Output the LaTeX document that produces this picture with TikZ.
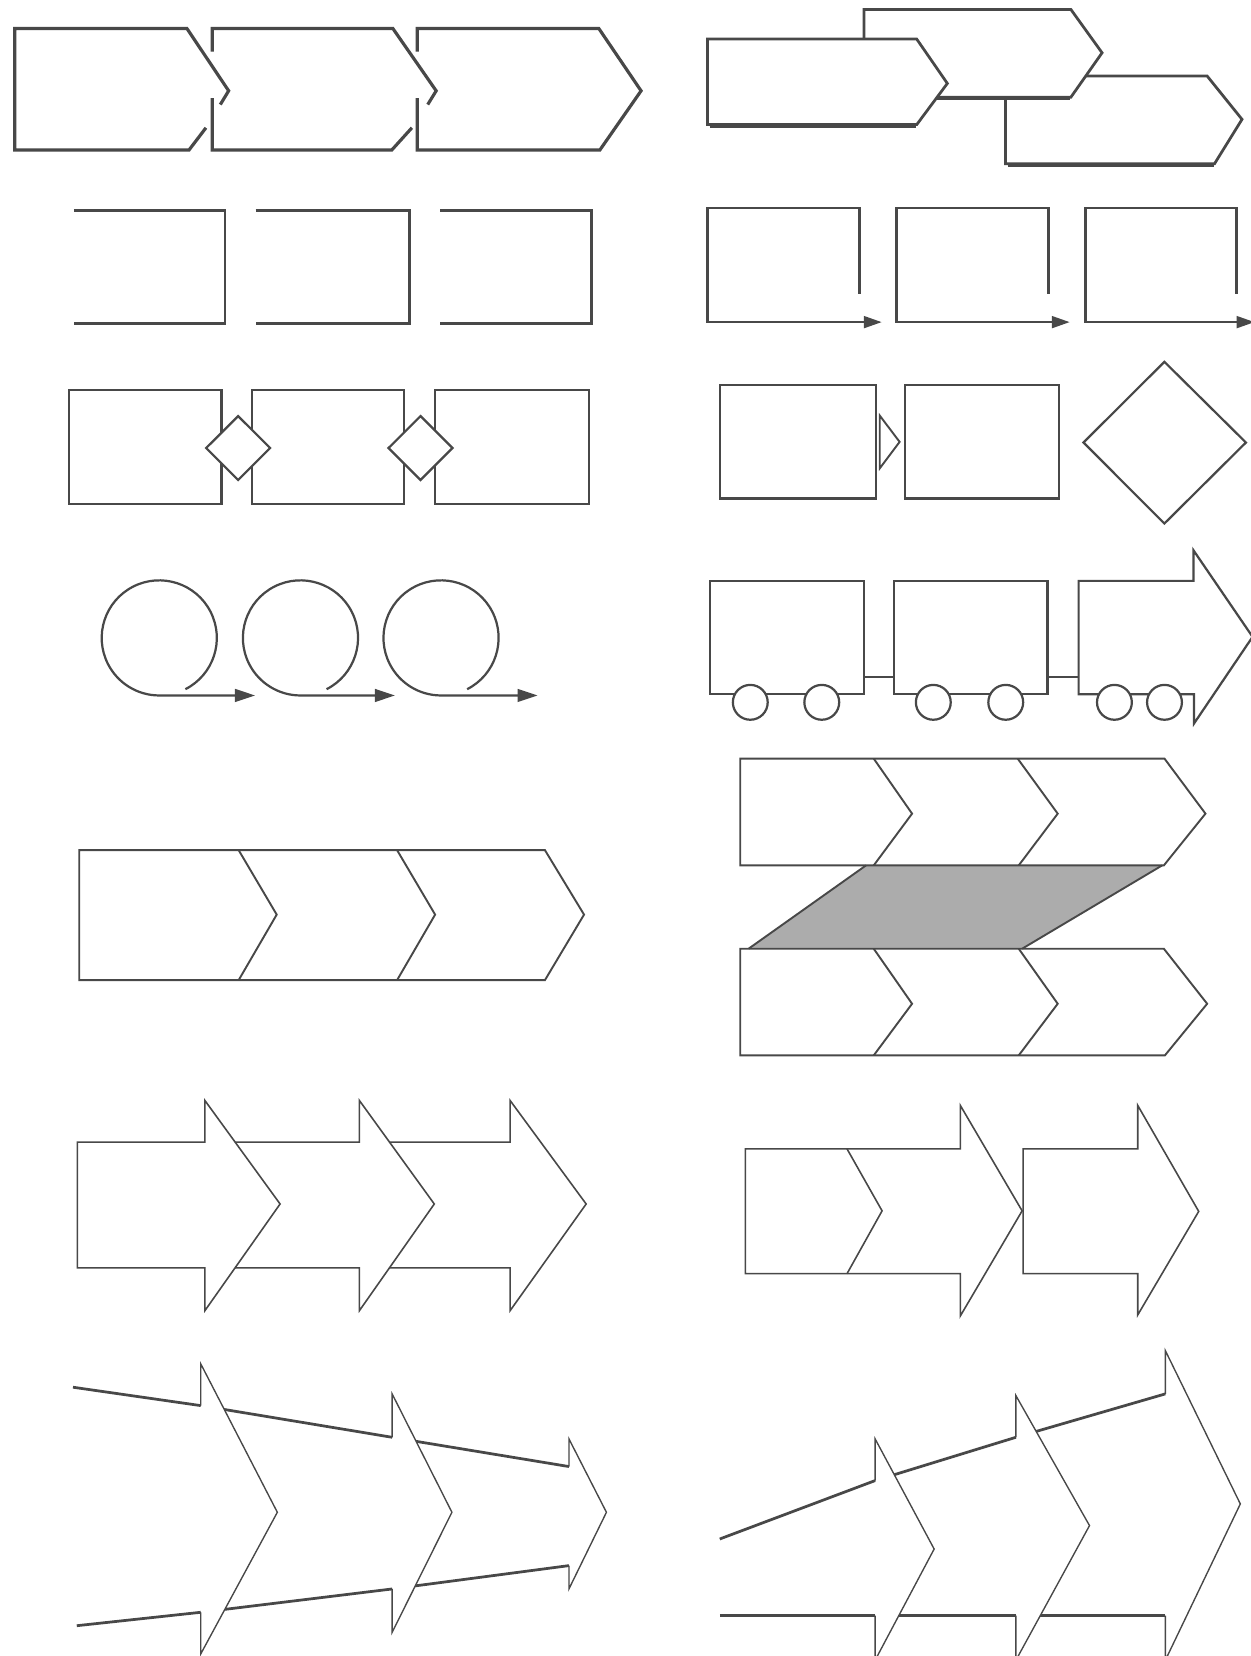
\documentclass[tikz,border=0pt]{standalone}
\usetikzlibrary{arrows.meta}
\definecolor{ink}{RGB}{72,72,72}
\definecolor{shadecol}{RGB}{172,172,172}
\begin{document}
\begin{tikzpicture}[x=1pt,y=-1pt,line join=miter,line cap=butt,
  wA/.style={draw=ink,line width=3pt},
  wB/.style={draw=ink,line width=2.6pt},
  wC/.style={draw=ink,line width=2.1pt},
  wD/.style={draw=ink,line width=1.8pt},
  wE/.style={draw=ink,line width=1.5pt},
  wF/.style={draw=ink,line width=1.3pt},
  wG/.style={draw=ink,line width=2.6pt},
  tipA/.style={-{Triangle[length=17pt,width=11pt]}},
  white/.style={fill=white}]
\fill[white] (0,0) rectangle (1184,1568);
\useasboundingbox (0,0) rectangle (1184,1568);

% ---------- Row 1 left: interlocking chevron boxes
\draw[wA] (195,121) -- (179,142) -- (14,142) -- (14,27) -- (177,27) -- (216.5,86) -- (208.6,99);
\draw[wA] (201,49) -- (201,27) -- (372,27) -- (413,86) -- (405,99);
\draw[wA] (390,121) -- (371,142) -- (201,142) -- (201,93);
\draw[wA] (395,49) -- (395,27) -- (567,27) -- (607,86) -- (568,142) -- (395,142) -- (395,93);

% ---------- Row 1 right: overlapping pentagons
\filldraw[wB,white] (952,72) -- (1143,72) -- (1176,113) -- (1150,155) -- (952,155) -- cycle;
\draw[ink,line width=2pt] (954,157) -- (1149,157);
\filldraw[wB,white] (818,9) -- (1014,9) -- (1043.5,50) -- (1014,92) -- (818,92) -- cycle;
\draw[ink,line width=2pt] (820,94) -- (1013,94);
\filldraw[wB,white] (670,37) -- (868,37) -- (897,79) -- (868,118) -- (670,118) -- cycle;
\draw[ink,line width=2pt] (672,120) -- (867,120);

% ---------- Row 2 left: open brackets
\draw[wB] (70,199) -- (213,199) -- (213,306) -- (70,306);
\draw[wB] (242,199) -- (387.6,199) -- (387.6,306) -- (242,306);
\draw[wB] (416.7,199) -- (560,199) -- (560,306) -- (416.7,306);

% ---------- Row 2 right: boxes with arrows
\draw[wB,tipA] (814,278) -- (814,197) -- (670,197) -- (670,305) -- (835,305);
\draw[wB,tipA] (993,278) -- (993,197) -- (849,197) -- (849,305) -- (1013,305);
\draw[wB,tipA] (1171,278) -- (1171,197) -- (1028,197) -- (1028,305) -- (1188,305);

% ---------- Row 3 left: boxes with diamonds
\draw[wC] (65.4,369.4) rectangle (209.7,477.4);
\draw[wC] (238.7,369.4) rectangle (382.7,477.4);
\draw[wC] (411.7,369.4) rectangle (557.7,477.4);
\filldraw[wC,white] (225.5,394) -- (255.8,424.2) -- (225.5,454.5) -- (195.2,424.2) -- cycle;
\filldraw[wC,white] (398.2,394) -- (428.5,424.2) -- (398.2,454.5) -- (367.9,424.2) -- cycle;

% ---------- Row 3 right: boxes, small triangle, big diamond
\draw[wC] (681.4,364.7) rectangle (829.2,472);
\draw[wC] (856.8,364.7) rectangle (1002.7,472);
\draw[wD] (833,393.5) -- (851.8,418.4) -- (833,443.5) -- cycle;
\draw[wC] (1102.5,342.6) -- (1179.7,419) -- (1102.5,495.7) -- (1025.9,419) -- cycle;

% ---------- Row 4 left: looping circles with arrows
\draw[wC,-{Triangle[length=19pt,width=12pt]}] (150.8,604) ++(-63:54.5pt) arc[start angle=-63,end angle=270,radius=54.5pt] -- (241.5,658.5);
\draw[wC,-{Triangle[length=19pt,width=12pt]}] (284.5,604) ++(-63:54.5pt) arc[start angle=-63,end angle=270,radius=54.5pt] -- (374,658.5);
\draw[wC,-{Triangle[length=19pt,width=12pt]}] (417.6,604) ++(-63:54.5pt) arc[start angle=-63,end angle=270,radius=54.5pt] -- (509,658.5);

% ---------- Row 4 right: train
\draw[wC] (672.2,550) rectangle (818.3,657.4);
\draw[wC] (846.4,550) rectangle (991.9,657.4);
\draw[wC] (1021.3,550) -- (1130,550) -- (1130,521) -- (1186,603) -- (1130.6,685) -- (1130.6,657.4) -- (1021.3,657.4) -- cycle;
\draw[wC] (818.3,641) -- (846.4,641);
\draw[wC] (991.9,641) -- (1021.3,641);
\foreach \wx in {710.4,778.1,883.7,952.3,1055.2,1102.6}
  \filldraw[wC,white] (\wx,665) circle[radius=16.5pt];

% ---------- Row 5 left: chevron bar
\draw[wD] (75,805) -- (516,805) -- (553,866) -- (516,928) -- (75,928) -- cycle;
\draw[wD] (226,805) -- (262,866) -- (226,928);
\draw[wD] (376,805) -- (412,866) -- (376,928);

% ---------- Row 5 right: two chevron bars with shaded band
\fill[shadecol] (820,819.4) -- (1100.4,819.4) -- (967.8,898.3) -- (708.8,898.3) -- cycle;
\draw[wD] (820,819.4) -- (708.8,898.3);
\draw[wD] (1100.4,819.4) -- (967.8,898.3);
\draw[wD] (700.9,718.3) -- (1102.6,718.3) -- (1141.4,770.4) -- (1102,819.4) -- (700.9,819.4) -- cycle;
\draw[wD] (827.3,718.3) -- (863.6,770.4) -- (827.3,819.4);
\draw[wD] (963.6,718.3) -- (1001.5,770.4) -- (964.6,819.4);
\draw[wD] (700.9,898.3) -- (1102,898.3) -- (1143,950.4) -- (1103,999.3) -- (700.9,999.3) -- cycle;
\draw[wD] (827.3,898.3) -- (863.6,950.4) -- (827.3,999.3);
\draw[wD] (964.6,898.3) -- (1001.5,950.4) -- (964.6,999.3);

% ---------- Row 6 left: overlapping block arrows
\filldraw[wE,white] (352,1081.4) -- (483,1081.4) -- (483,1042) -- (555,1140) -- (483,1241) -- (483,1200.5) -- (352,1200.5) -- cycle;
\filldraw[wE,white] (205,1081.4) -- (340.3,1081.4) -- (340.3,1042) -- (411.2,1140) -- (340.3,1241) -- (340.3,1200.5) -- (205,1200.5) -- cycle;
\filldraw[wE,white] (73.2,1081.4) -- (194,1081.4) -- (194,1042) -- (265.2,1140) -- (194,1241) -- (194,1200.5) -- (73.2,1200.5) -- cycle;

% ---------- Row 6 right: chevron-box arrow and block arrow
\draw[wE] (705.7,1087.8) -- (909.3,1087.8) -- (909.3,1046.7) -- (967.8,1146.5) -- (909.3,1246) -- (909.3,1206) -- (705.7,1206) -- cycle;
\draw[wE] (802,1087.8) -- (835.2,1146.5) -- (802,1206);
\draw[wE] (968.7,1087.8) -- (1077.3,1087.8) -- (1077.3,1046.7) -- (1135,1147) -- (1077.3,1245) -- (1077.3,1206) -- (968.7,1206) -- cycle;

% ---------- Row 7 left: converging arrows
\fill[white] (381,1362.6) -- (538.7,1388.6) -- (538.7,1362.4) -- (574.2,1431.9) -- (538.7,1504.5) -- (538.7,1482.4) -- (381,1503.2) -- cycle;
\draw[wG] (381,1362.6) -- (538.7,1388.6);
\draw[wG] (381,1503.2) -- (538.7,1482.4);
\draw[wF] (538.7,1388.6) -- (538.7,1362.4) -- (574.2,1431.9) -- (538.7,1504.5) -- (538.7,1482.4);
\fill[white] (200,1332.5) -- (371.3,1360.9) -- (371.3,1319.8) -- (427.9,1431.9) -- (371.3,1545.6) -- (371.3,1504.5) -- (200,1525.4) -- cycle;
\draw[wG] (200,1332.5) -- (371.3,1360.9);
\draw[wG] (200,1525.4) -- (371.3,1504.5);
\draw[wF] (371.3,1360.9) -- (371.3,1319.8) -- (427.9,1431.9) -- (371.3,1545.6) -- (371.3,1504.5);
\fill[white] (69.1,1313.5) -- (190.1,1330.9) -- (190.1,1291.4) -- (262.6,1431.9) -- (190.1,1566) -- (190.1,1526.6) -- (72.7,1539.3) -- cycle;
\draw[wG] (69.1,1313.5) -- (190.1,1330.9);
\draw[wG] (72.7,1539.3) -- (190.1,1526.6);
\draw[wF] (190.1,1330.9) -- (190.1,1291.4) -- (262.6,1431.9) -- (190.1,1566) -- (190.1,1526.6);

% ---------- Row 7 right: diverging arrows
\fill[white] (973,1357.7) -- (1103.4,1319.8) -- (1103.4,1278.8) -- (1174.4,1424) -- (1103.4,1572) -- (1103.4,1529.8) -- (973,1529.8) -- cycle;
\draw[wG] (973,1357.7) -- (1103.4,1319.8);
\draw[wG] (973,1529.8) -- (1103.4,1529.8);
\draw[wF] (1103.4,1319.8) -- (1103.4,1278.8) -- (1174.4,1424) -- (1103.4,1572) -- (1103.4,1529.8);
\fill[white] (840,1398.4) -- (961.9,1360.9) -- (961.9,1321.4) -- (1031.6,1444.5) -- (961.9,1572) -- (961.9,1529.8) -- (840,1529.8) -- cycle;
\draw[wG] (840,1398.4) -- (961.9,1360.9);
\draw[wG] (840,1529.8) -- (961.9,1529.8);
\draw[wF] (961.9,1360.9) -- (961.9,1321.4) -- (1031.6,1444.5) -- (961.9,1572) -- (961.9,1529.8);
\fill[white] (681.5,1457.2) -- (828.6,1401.9) -- (828.6,1362.4) -- (884.5,1466.7) -- (828.6,1572) -- (828.6,1529.8) -- (681.5,1529.8) -- cycle;
\draw[wG] (681.5,1457.2) -- (828.6,1401.9);
\draw[wG] (681.5,1529.8) -- (828.6,1529.8);
\draw[wF] (828.6,1401.9) -- (828.6,1362.4) -- (884.5,1466.7) -- (828.6,1572) -- (828.6,1529.8);
\end{tikzpicture}
\end{document}
